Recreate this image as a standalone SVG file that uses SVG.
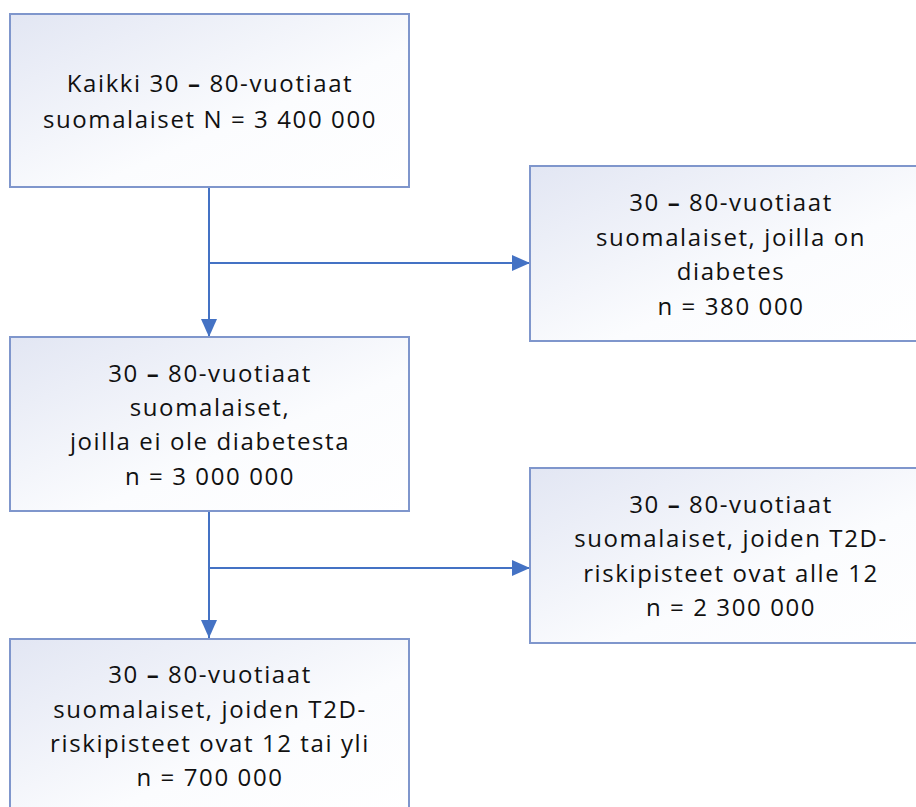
<svg xmlns="http://www.w3.org/2000/svg" width="916" height="807" viewBox="0 0 916 807">
<defs>
<linearGradient id="g" x1="0" y1="0" x2="1" y2="1">
<stop offset="0" stop-color="#e2e6f3"/>
<stop offset="0.6" stop-color="#fbfcfe"/>
<stop offset="1" stop-color="#ffffff"/>
</linearGradient>
<marker id="ah" viewBox="0 0 18 16" refX="18" refY="8" markerWidth="18" markerHeight="16" markerUnits="userSpaceOnUse" orient="auto">
<path d="M0,0 L18,8 L0,16 Z" fill="#4472c4"/>
</marker>
<style>
.box{fill:url(#g);stroke:#7f96cc;stroke-width:2}
.t{font-family:"Open Sans","Noto Sans",sans-serif;font-size:24px;letter-spacing:1.6px;fill:#111;text-anchor:middle}
.c{fill:none;stroke:#4472c4;stroke-width:2}
</style>
</defs>
<rect width="916" height="807" fill="#ffffff"/>
<g id="connectors">
<path class="c" d="M209,187 V337" marker-end="url(#ah)"/>
<path class="c" d="M209,263 H530" marker-end="url(#ah)"/>
<path class="c" d="M209,512 V638" marker-end="url(#ah)"/>
<path class="c" d="M209,568 H530" marker-end="url(#ah)"/>
</g>
<g id="n1">
<rect class="box" x="10" y="14" width="399" height="173"/>
<text class="t"><tspan x="210" y="92">Kaikki 30 <tspan font-weight="bold">–</tspan> 80-vuotiaat</tspan><tspan x="210" y="128">suomalaiset N = 3 400 000</tspan></text>
</g>
<g id="n2">
<rect class="box" x="530" y="166" width="400" height="175"/>
<text class="t"><tspan x="731" y="211">30 <tspan font-weight="bold">–</tspan> 80-vuotiaat</tspan><tspan x="731" y="246">suomalaiset, joilla on</tspan><tspan x="731" y="280">diabetes</tspan><tspan x="731" y="315">n = 380 000</tspan></text>
</g>
<g id="n3">
<rect class="box" x="10" y="337" width="399" height="174"/>
<text class="t"><tspan x="210" y="382">30 <tspan font-weight="bold">–</tspan> 80-vuotiaat</tspan><tspan x="210" y="416">suomalaiset,</tspan><tspan x="210" y="450">joilla ei ole diabetesta</tspan><tspan x="210" y="485">n = 3 000 000</tspan></text>
</g>
<g id="n4">
<rect class="box" x="530" y="468" width="400" height="175"/>
<text class="t"><tspan x="731" y="513">30 <tspan font-weight="bold">–</tspan> 80-vuotiaat</tspan><tspan x="731" y="547">suomalaiset, joiden T2D-</tspan><tspan x="731" y="582">riskipisteet ovat alle 12</tspan><tspan x="731" y="616">n = 2 300 000</tspan></text>
</g>
<g id="n5">
<rect class="box" x="10" y="639" width="399" height="180"/>
<text class="t"><tspan x="210" y="683">30 <tspan font-weight="bold">–</tspan> 80-vuotiaat</tspan><tspan x="210" y="718">suomalaiset, joiden T2D-</tspan><tspan x="210" y="752">riskipisteet ovat 12 tai yli</tspan><tspan x="210" y="786">n = 700 000</tspan></text>
</g>
</svg>
